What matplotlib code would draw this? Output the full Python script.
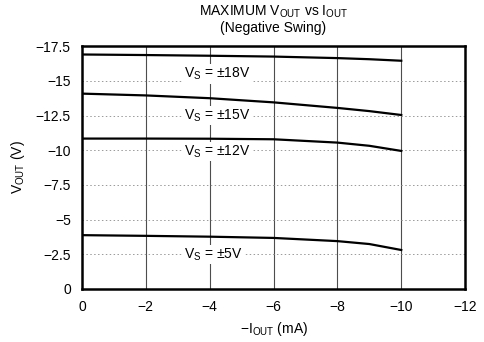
import matplotlib
matplotlib.use("Agg")
import matplotlib.pyplot as plt

plt.rcParams['font.family'] = ['Liberation Sans', 'DejaVu Sans']
plt.rcParams['mathtext.default'] = 'regular'

# -I_OUT (mA) sample points
i_out = [0, -2, -4, -6, -8, -9, -10]

# V_OUT (V) for each supply
v_18 = [-16.90, -16.86, -16.81, -16.75, -16.64, -16.56, -16.45]
v_15 = [-14.08, -13.95, -13.75, -13.45, -13.05, -12.82, -12.54]
v_12 = [-10.84, -10.84, -10.83, -10.79, -10.55, -10.32, -9.95]
v_5 = [-3.88, -3.83, -3.77, -3.68, -3.45, -3.24, -2.81]

curves = [v_18, v_15, v_12, v_5]
labels = ['V$_S$ = ±18V', 'V$_S$ = ±15V', 'V$_S$ = ±12V', 'V$_S$ = ±5V']
label_y = [-15.5, -12.5, -9.9, -2.5]

x_ticks = [0, -2, -4, -6, -8, -10, -12]
y_ticks = [0, -2.5, -5, -7.5, -10, -12.5, -15, -17.5]

fig = plt.figure(figsize=(4.85, 3.42), dpi=100)
ax = fig.add_axes([0.169, 0.155, 0.790, 0.710])

for xv in x_ticks[1:-1]:
    ax.axvline(xv, color='0.3', lw=0.8, zorder=1)
for yv in y_ticks[1:-1]:
    ax.axhline(yv, color='0.6', lw=0.7, ls=(0, (1.5, 2.5)), zorder=1)

for v in curves:
    ax.plot(i_out, v, color='black', lw=1.6, zorder=3)

for lab, yl in zip(labels, label_y):
    ax.text(-3.2, yl, lab, fontsize=10, ha='left', va='center', zorder=4,
            bbox=dict(facecolor='white', edgecolor='none', pad=1))

ax.set_xlim(0, -12)
ax.set_ylim(0, -17.5)
ax.set_xticks(x_ticks)
ax.set_yticks(y_ticks)
ax.set_yticklabels(['0', '−2.5', '−5', '−7.5', '−10', '−12.5', '−15', '−17.5'])
ax.tick_params(length=0, labelsize=10, pad=8)
for s in ax.spines.values():
    s.set_linewidth(1.8)

ax.set_xlabel('−I$_{OUT}$ (mA)', fontsize=10, labelpad=4)
ax.set_ylabel('V$_{OUT}$ (V)', fontsize=10, labelpad=6)
ax.set_title('MAXIMUM V$_{OUT}$ vs I$_{OUT}$\n(Negative Swing)', fontsize=10,
             pad=10, linespacing=1.1)

fig.savefig('out.png', dpi=100)
